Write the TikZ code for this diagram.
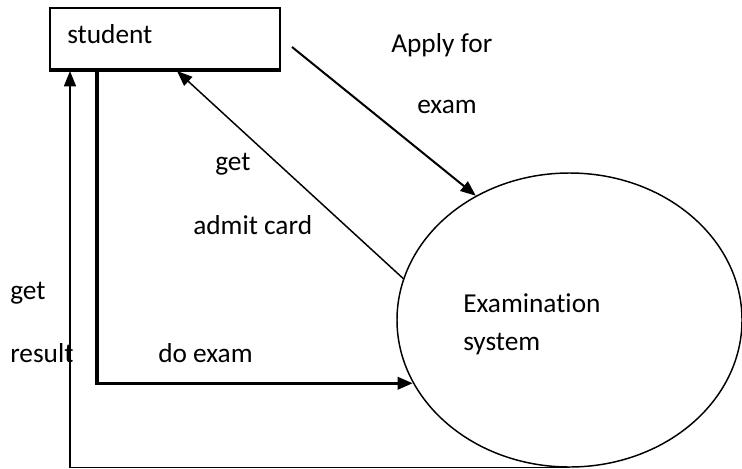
\documentclass[tikz,border=0pt]{standalone}
\usepackage{fontspec}
\setmainfont{Carlito}[Ligatures=NoCommon]
\usetikzlibrary{arrows.meta,shapes.geometric}
\begin{document}
\begin{tikzpicture}[x=.75pt,y=-.75pt]
\tikzset{every node/.style={font=\fontsize{20.5}{24}\selectfont,inner sep=0},
    lbl/.style={anchor=base west},
    flow/.style={-{Triangle[length=11.5pt,width=9pt]}}}
    \useasboundingbox (0,0) rectangle (742,468);

    \node[draw,line width=1.4pt,minimum width=172.5pt,minimum height=45.75pt] (student) at (165,38.5) {};
    \draw[line width=2.6pt] (student.south west) -- (student.south east);
    \node[lbl] (sttxt) at (67,43) {student};

    \node[ellipse,draw,line width=1.1pt,minimum width=258.75pt,minimum height=220.5pt] (sys) at (569.5,320) {};
    \node[lbl] (sys1) at (463,312) {Examination};
    \node[lbl] (sys2) at (463,350) {system};

    \coordinate (applyin) at (292,47);
    \coordinate (admitend) at (177,71);
    \coordinate (doexam) at (97,69);
    \coordinate (resultend) at (70,71);

    \draw[flow,line width=1.5pt] (applyin) -- (sys.127);
    \draw[flow,line width=1.1pt] (sys.166) -- (admitend);
    \draw[flow,line width=2.6pt] (doexam) |- (sys.202);
    \draw[flow,line width=1.1pt] (sys.south) -| (resultend);

    \node[lbl] (apply1) at (391,52) {Apply for};
    \node[lbl] (apply2) at (417,113) {exam};
    \node[lbl] (admit1) at (215,170) {get};
    \node[lbl] (admit2) at (193,234) {admit card};
    \node[lbl] (res1) at (10,299) {get};
    \node[lbl] (res2) at (10,362) {result};
    \node[lbl] (doex) at (158,362) {do exam};
\end{tikzpicture}
\end{document}
